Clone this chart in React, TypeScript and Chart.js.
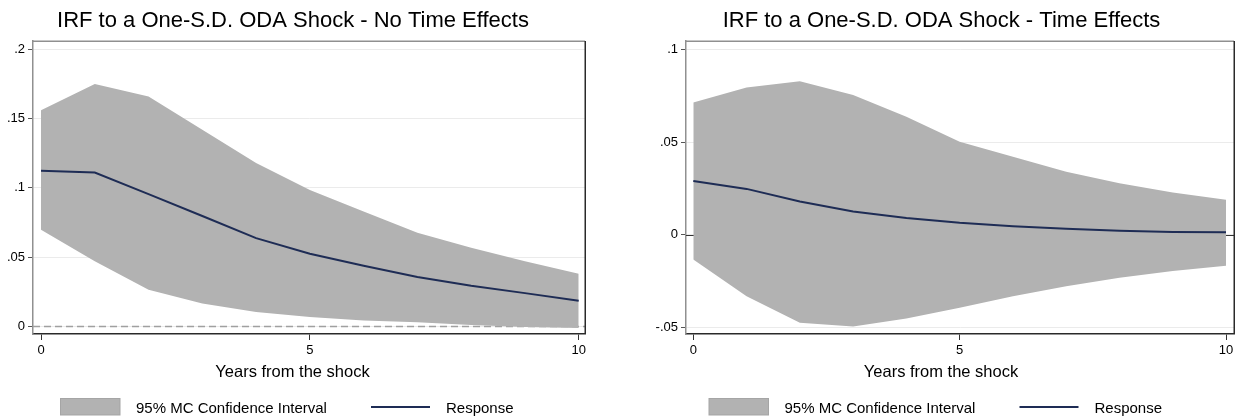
import React, { useEffect, useRef } from "react";
import { Chart, registerables } from "chart.js";

Chart.register(...registerables);

// ---------- data ----------
const years = [0, 1, 2, 3, 4, 5, 6, 7, 8, 9, 10];

const noTimeResponse = [0.1124, 0.111, 0.0955, 0.0797, 0.0637, 0.0524, 0.0437, 0.0356, 0.0293, 0.024, 0.0185];
const noTimeUpper = [0.156, 0.175, 0.166, 0.142, 0.118, 0.0985, 0.083, 0.0675, 0.0567, 0.047, 0.038];
const noTimeLower = [0.0697, 0.047, 0.0264, 0.0165, 0.0104, 0.0068, 0.0043, 0.0029, 0.001, -0.0005, -0.0012];

const timeResponse = [0.029, 0.0247, 0.0179, 0.0125, 0.009, 0.0064, 0.0045, 0.0032, 0.0021, 0.0014, 0.0013];
const timeUpper = [0.0713, 0.0794, 0.0828, 0.0753, 0.0636, 0.0502, 0.042, 0.034, 0.0278, 0.0228, 0.0188];
const timeLower = [-0.0134, -0.0332, -0.0475, -0.0496, -0.0453, -0.0394, -0.0332, -0.0278, -0.0233, -0.0196, -0.0168];

const xTickValues = [0, 5, 10];
const noTimeYTicks = [0, 0.05, 0.1, 0.15, 0.2];
const timeYTicks = [-0.05, 0, 0.05, 0.1];

const titleNoTime = "IRF to a One-S.D. ODA Shock - No Time Effects";
const titleTime = "IRF to a One-S.D. ODA Shock - Time Effects";
const xAxisLabel = "Years from the shock";
const legendLabels = ["95% MC Confidence Interval", "Response"];

// ---------- styles ----------
const FONT = '"Liberation Sans", Arial, Helvetica, sans-serif';
const BAND = "#b2b2b2";
const NAVY = "#1e2c55";
const W = 620;
const H = 418;
const PLOT_TOP = 41;
const PLOT_BOTTOM = 334;

const fmt = (v: number) => {
  if (Math.abs(v) < 1e-9) return "0";
  const s = String(Math.round(v * 1000) / 1000);
  return s.replace(/^(-?)0\./, "$1.");
};

type PanelCfg = {
  title: string;
  response: number[];
  upper: number[];
  lower: number[];
  yTicks: number[];
  xMin: number;
  xMax: number;
  yMin: number;
  yMax: number;
  plotLeft: number;
  plotRight: number;
  zeroStyle: "dashed" | "solid";
  shift: number;
  canvasLeft: number;
};

const panels: PanelCfg[] = [
  {
    title: titleNoTime,
    response: noTimeResponse,
    upper: noTimeUpper,
    lower: noTimeLower,
    yTicks: noTimeYTicks,
    xMin: -0.149,
    xMax: 10.117,
    yMin: -0.0055,
    yMax: 0.206,
    plotLeft: 33,
    plotRight: 585,
    zeroStyle: "dashed",
    shift: 0,
    canvasLeft: 0,
  },
  {
    title: titleTime,
    response: timeResponse,
    upper: timeUpper,
    lower: timeLower,
    yTicks: timeYTicks,
    xMin: -0.137,
    xMax: 10.15,
    yMin: -0.0536,
    yMax: 0.1045,
    plotLeft: 66,
    plotRight: 614,
    zeroStyle: "solid",
    shift: 28.5,
    canvasLeft: 620,
  },
];

function Panel({ cfg }: { cfg: PanelCfg }) {
  const ref = useRef<HTMLCanvasElement | null>(null);

  useEffect(() => {
    const canvas = ref.current;
    if (!canvas) return;

    const decor = {
      id: "decor",
      beforeDatasetsDraw(chart: any) {
        const { ctx, chartArea } = chart;
        const y0 = chart.scales.y.getPixelForValue(0);
        ctx.save();
        ctx.beginPath();
        if (cfg.zeroStyle === "dashed") {
          ctx.setLineDash([7, 4]);
          ctx.strokeStyle = "#a0a0a0";
          ctx.lineWidth = 1.5;
        } else {
          ctx.strokeStyle = "#333";
          ctx.lineWidth = 1;
        }
        ctx.moveTo(chartArea.left, Math.round(y0) + 0.5);
        ctx.lineTo(chartArea.right, Math.round(y0) + 0.5);
        ctx.stroke();
        ctx.restore();
      },
      afterDraw(chart: any) {
        const { ctx, chartArea } = chart;
        const s = cfg.shift;
        ctx.save();
        // top & right border of plot region
        ctx.lineWidth = 1.5;
        ctx.strokeStyle = "#909090";
        ctx.beginPath();
        ctx.moveTo(chartArea.left, chartArea.top + 0.25);
        ctx.lineTo(chartArea.right, chartArea.top + 0.25);
        ctx.stroke();
        ctx.strokeStyle = "#2a2a2a";
        ctx.beginPath();
        ctx.moveTo(chartArea.right + 0.25, chartArea.top);
        ctx.lineTo(chartArea.right + 0.25, chartArea.bottom);
        ctx.stroke();

        // title
        ctx.fillStyle = "#000";
        ctx.textAlign = "center";
        ctx.textBaseline = "alphabetic";
        ctx.font = `22px ${FONT}`;
        ctx.fillText(cfg.title, 293 + s, 27);

        // x axis title
        ctx.font = `16.5px ${FONT}`;
        ctx.fillText(xAxisLabel, 292.5 + s, 377);

        // legend
        ctx.textAlign = "left";
        ctx.font = `15px ${FONT}`;
        ctx.fillStyle = BAND;
        ctx.fillRect(60.5 + s, 398.5, 59.5, 16.5);
        ctx.strokeStyle = "#a5a5a5";
        ctx.lineWidth = 1;
        ctx.strokeRect(60.5 + s, 398.5, 59.5, 16.5);
        ctx.fillStyle = "#000";
        ctx.fillText(legendLabels[0], 136 + s, 413);
        ctx.strokeStyle = NAVY;
        ctx.lineWidth = 2;
        ctx.beginPath();
        ctx.moveTo(371 + s, 407);
        ctx.lineTo(430 + s, 407);
        ctx.stroke();
        ctx.fillText(legendLabels[1], 446 + s, 413);
        ctx.restore();
      },
    };

    const pts = (vals: number[]) => years.map((x, i) => ({ x, y: vals[i] }));

    // Chart.js draws datasets from last to first, so the response line goes first.
    const chart = new Chart(canvas, {
      type: "line",
      data: {
        datasets: [
          {
            label: legendLabels[1],
            data: pts(cfg.response),
            borderColor: NAVY,
            borderWidth: 2,
            pointRadius: 0,
            fill: false,
            tension: 0,
          },
          {
            label: "lower",
            data: pts(cfg.lower),
            borderWidth: 0,
            borderColor: "rgba(0,0,0,0)",
            pointRadius: 0,
            fill: false,
          },
          {
            label: legendLabels[0],
            data: pts(cfg.upper),
            borderWidth: 0,
            borderColor: "rgba(0,0,0,0)",
            backgroundColor: BAND,
            pointRadius: 0,
            fill: "-1",
          },
        ],
      },
      options: {
        animation: false,
        responsive: false,
        events: [],
        layout: { padding: { top: PLOT_TOP, bottom: 0, left: 0, right: W - cfg.plotRight } },
        plugins: {
          legend: { display: false },
          title: { display: false },
          tooltip: { enabled: false },
        },
        scales: {
          x: {
            type: "linear",
            min: cfg.xMin,
            max: cfg.xMax,
            afterFit: (sc: any) => {
              sc.height = H - PLOT_BOTTOM;
            },
            afterBuildTicks: (sc: any) => {
              sc.ticks = xTickValues.map((v) => ({ value: v }));
            },
            grid: {
              display: true,
              drawOnChartArea: false,
              drawTicks: true,
              tickLength: 6,
              tickColor: "#333",
              tickWidth: 1,
            },
            border: { display: true, color: "#2a2a2a", width: 1.5 },
            ticks: {
              font: { family: FONT, size: 13 },
              color: "#000",
              padding: 3,
              maxRotation: 0,
              autoSkip: false,
              callback: (v: any) => fmt(Number(v)),
            },
          },
          y: {
            type: "linear",
            min: cfg.yMin,
            max: cfg.yMax,
            afterFit: (sc: any) => {
              sc.width = cfg.plotLeft;
            },
            afterBuildTicks: (sc: any) => {
              sc.ticks = cfg.yTicks.map((v) => ({ value: v }));
            },
            grid: {
              display: true,
              color: "#ebebeb",
              lineWidth: 1,
              drawTicks: true,
              tickLength: 5,
              tickColor: "#555",
              tickWidth: 1,
            },
            border: { display: true, color: "#909090", width: 1.5 },
            ticks: {
              font: { family: FONT, size: 13 },
              color: "#000",
              padding: 3,
              autoSkip: false,
              callback: (v: any) => fmt(Number(v)),
            },
          },
        },
      },
      plugins: [decor],
    } as any);

    return () => chart.destroy();
  }, [cfg]);

  return (
    <canvas
      ref={ref}
      width={W}
      height={H}
      style={{ position: "absolute", left: cfg.canvasLeft, top: 0, width: W, height: H }}
    />
  );
}

export default function App() {
  return (
    <div
      style={{
        position: "absolute",
        left: 0,
        top: 0,
        width: 1240,
        height: 418,
        background: "#fff",
        overflow: "hidden",
      }}
    >
      {panels.map((p, i) => (
        <Panel key={i} cfg={p} />
      ))}
    </div>
  );
}
